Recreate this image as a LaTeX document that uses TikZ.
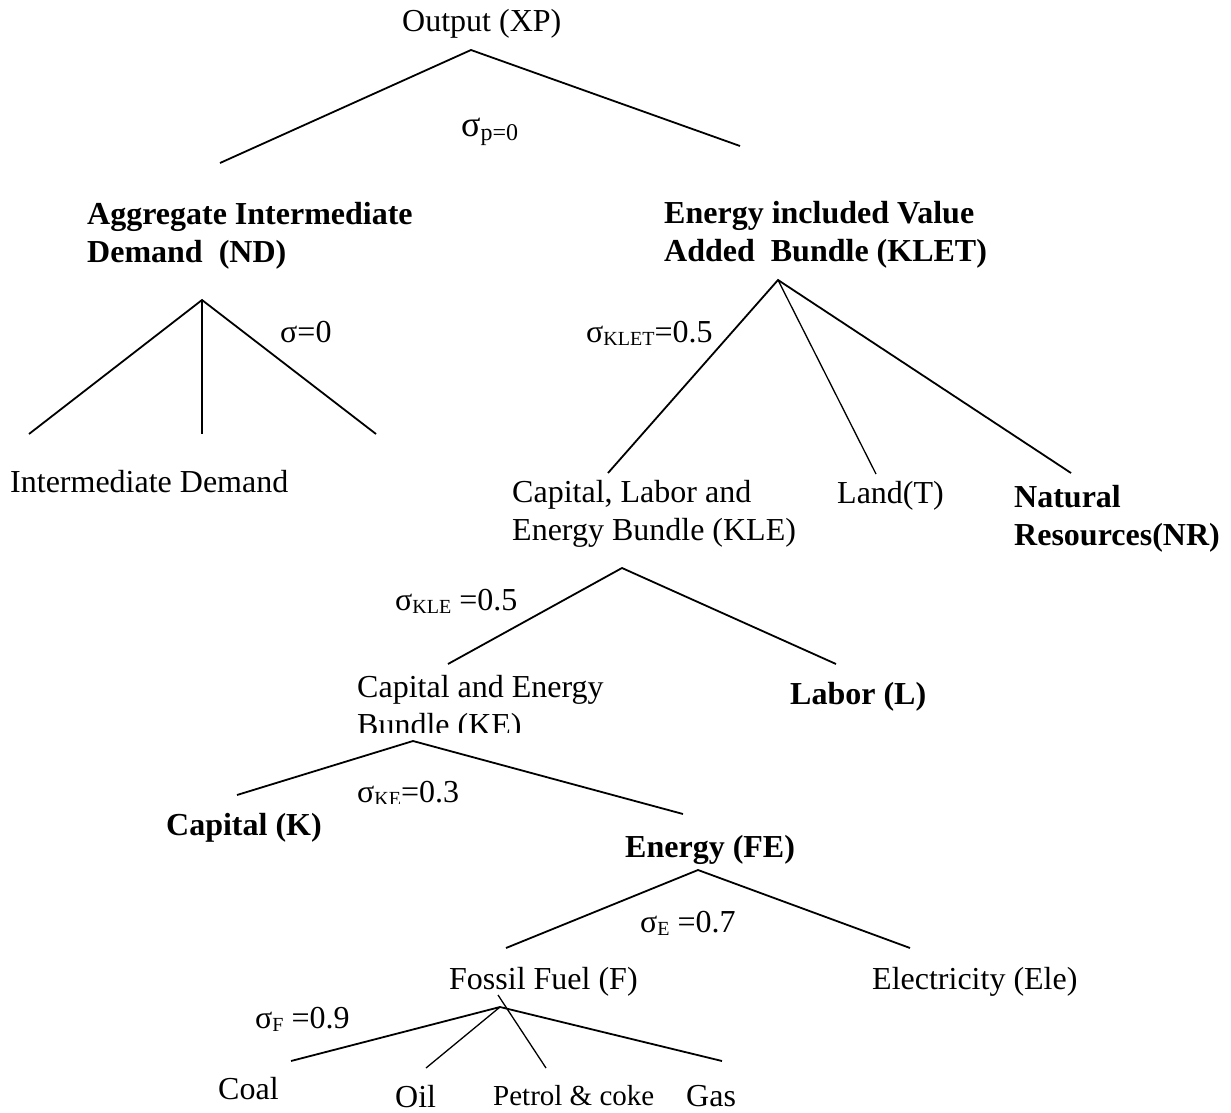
\documentclass[tikz,border=0pt]{standalone}
\usepackage{fontspec}
\setmainfont{Liberation Serif}
\newcommand\lowsub[1]{\raisebox{-3pt}{\fontsize{20}{20}\selectfont #1}}
\tikzset{
  lbl/.style={font=\fontsize{32}{38}\selectfont, inner sep=0pt, anchor=base west, align=left},
  blbl/.style={lbl, font=\fontsize{32}{38}\selectfont\bfseries},
  branch/.style={line width=1.8pt},
  twig/.style={line width=1.3pt}
}
\begin{document}
\begin{tikzpicture}[x=1pt, y=-1pt]
        \useasboundingbox (0,0) rectangle (1231,1113);

        % --- Output ---
        \node[lbl] (xp) at (402,32) {Output (XP)};
        \node[lbl] (sp) at (461,137) {{\fontsize{36}{36}\selectfont σ}\raisebox{-3pt}{\fontsize{24}{24}\selectfont p=0}};
        \coordinate (xp-top) at (471,50);
        \coordinate (xp-l) at (220,163);
        \coordinate (xp-r) at (740,146);
        \draw[branch] (xp-l) -- (xp-top) -- (xp-r);

        % --- Intermediate demand ---
        \node[blbl] (nd) at (87,262) {Aggregate Intermediate\\Demand\ \ (ND)};
        \node[lbl] (snd) at (280,342) {σ=0};
        \node[lbl] (id) at (10,492) {Intermediate Demand};
        \coordinate (nd-top) at (202,300);
        \coordinate (nd-l) at (29,434);
        \coordinate (nd-m) at (202,434);
        \coordinate (nd-r) at (376,434);
        \draw[branch] (nd-l) -- (nd-top) -- (nd-r);
        \draw[branch] (nd-top) -- (nd-m);

        % --- KLET ---
        \node[blbl] (klet) at (664,261) {Energy included Value\\Added\ \ Bundle (KLET)};
        \node[lbl] (sklet) at (586,342) {σ\lowsub{KLET}=0.5};
        \node[lbl] (kle) at (512,540) {Capital, Labor and\\Energy Bundle (KLE)};
        \node[lbl] (land) at (837,503) {Land(T)};
        \node[blbl] (nr) at (1014,545) {Natural\\Resources(NR)};
        \coordinate (klet-top) at (778,280);
        \coordinate (klet-l) at (608,473);
        \coordinate (klet-m) at (876,474);
        \coordinate (klet-r) at (1071,473);
        \draw[branch] (klet-l) -- (klet-top) -- (klet-r);
        \draw[twig] (klet-top) -- (klet-m);

        % --- KLE ---
        \node[lbl] (skle) at (395,610) {σ\lowsub{KLE} =0.5};
        \begin{scope}
            \clip (300,650) rectangle (700,732);
            \node[lbl] (ke) at (357,735) {Capital and Energy\\Bundle (KE)};
        \end{scope}
        \node[blbl] (lab) at (790,704) {Labor (L)};
        \coordinate (kle-top) at (622,568);
        \coordinate (kle-l) at (448,664);
        \coordinate (kle-r) at (836,664);
        \draw[branch] (kle-l) -- (kle-top) -- (kle-r);

        % --- KE ---
        \begin{scope}
            \clip (300,760) rectangle (500,803);
            \node[lbl] (ske) at (357,802) {σ\lowsub{KE}=0.3};
        \end{scope}
        \node[blbl] (cap) at (166,835) {Capital (K)};
        \node[blbl] (fe) at (625,857) {Energy (FE)};
        \coordinate (ke-top) at (413,741);
        \coordinate (ke-l) at (237,795);
        \coordinate (ke-r) at (683,814);
        \draw[branch] (ke-l) -- (ke-top) -- (ke-r);

        % --- FE ---
        \node[lbl] (sfe) at (640,932) {σ\lowsub{E} =0.7};
        \node[lbl] (ff) at (449,989) {Fossil Fuel (F)};
        \node[lbl] (ele) at (872,989) {Electricity (Ele)};
        \coordinate (fe-top) at (698,870);
        \coordinate (fe-l) at (506,948);
        \coordinate (fe-r) at (910,948);
        \draw[branch] (fe-l) -- (fe-top) -- (fe-r);

        % --- Fossil fuels ---
        \node[lbl] (sff) at (255,1028) {σ\lowsub{F} =0.9};
        \node[lbl] (coal) at (218,1099) {Coal};
        \node[lbl] (oil) at (395,1107) {Oil};
        \node[lbl, font=\fontsize{29}{34}\selectfont] (pc) at (493,1105) {Petrol \& coke};
        \node[lbl] (gas) at (686,1106) {Gas};
        \coordinate (ff-top) at (500,1007);
        \coordinate (ff-p0) at (498,995);
        \coordinate (ff-coal) at (291,1061);
        \coordinate (ff-oil) at (426,1068);
        \coordinate (ff-pc) at (546,1068);
        \coordinate (ff-gas) at (722,1061);
        \draw[branch] (ff-coal) -- (ff-top) -- (ff-gas);
        \draw[twig] (ff-top) -- (ff-oil);
        \draw[twig] (ff-p0) -- (ff-pc);
\end{tikzpicture}
\end{document}
